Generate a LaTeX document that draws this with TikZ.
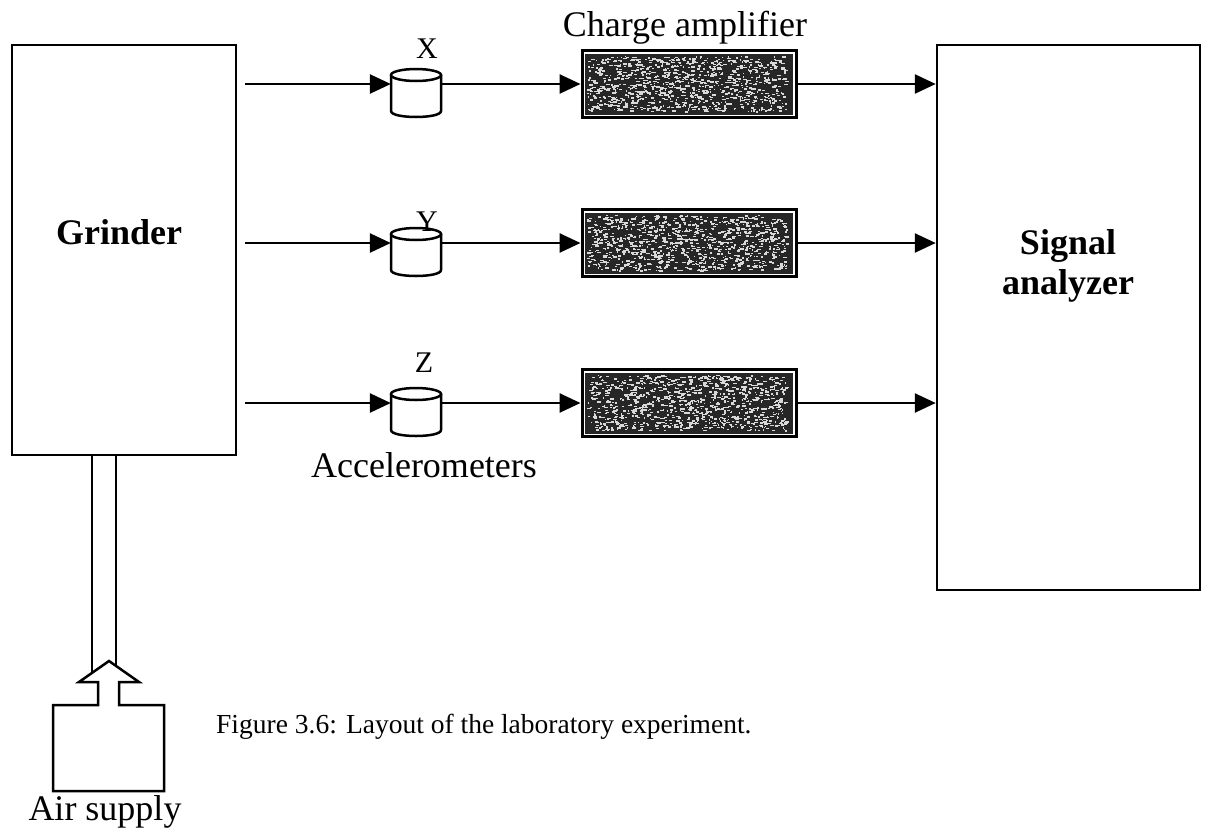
\documentclass[tikz,border=0pt]{standalone}
\usepackage{fontspec}
\setmainfont{Liberation Serif}
\usetikzlibrary{arrows.meta}
\begin{document}
\begin{tikzpicture}[x=1pt,y=-1pt,
  box/.style={draw, line width=2.5pt, rectangle, inner sep=0pt},
  ampbox/.style={draw, line width=3pt, rectangle, inner sep=0pt, minimum width=214pt, minimum height=67pt, fill=white},
  slot/.style={rectangle, inner sep=0pt, minimum width=50pt, minimum height=20pt},
  conn/.style={line width=2.6pt, -{Triangle[length=21pt,width=19pt]}},
  pipe/.style={line width=1.9pt},
  lbl/.style={font=\fontsize{36}{40}\selectfont, inner sep=0pt},
  axl/.style={font=\fontsize{30}{34}\selectfont, inner sep=0pt},
  bl/.style={font=\fontsize{36}{40}\selectfont\bfseries, inner sep=0pt},
  captxt/.style={font=\fontsize{27.5}{31}\selectfont, inner sep=0pt}
]
\useasboundingbox (0,0) rectangle (1216,833);

% main boxes
\node[box, minimum width=224pt, minimum height=410pt] (grinder) at (124,250) {};
\node[bl, anchor=base] (grinderlabel) at (119,244) {Grinder};
\node[box, minimum width=263pt, minimum height=545pt] (sa) at (1068.5,317.5) {};
\node[bl, anchor=base] (salabel1) at (1068,254) {Signal};
\node[bl, anchor=base] (salabel2) at (1068,294) {analyzer};

% accelerometers, amplifiers, start points
\foreach \r/\yy in {1/84,2/243,3/403}{
  \coordinate (s\r) at (245,\yy);
  \node[slot] (acc\r) at (416,\yy) {};
  \node[ampbox] (amp\r) at (689,\yy) {};
  \draw[line width=2.5pt, fill=white, line join=round]
    (391,\yy-9) -- (391,\yy+27) .. controls (391,\yy+35) and (441,\yy+35) .. (441,\yy+27) -- (441,\yy-9);
  \draw[line width=2.5pt, fill=white] (416,\yy-9) ellipse [x radius=25, y radius=6];
  \fill[black!85] ([shift={(4.5,4.5)}]amp\r.north west) rectangle ([shift={(-4.5,-4.5)}]amp\r.south east);
}
\pgfmathsetseed{7}
\foreach \cy in {84,243,403}{
  \foreach \i in {1,...,1000}{
    \pgfmathsetmacro{\px}{587+rnd*199}
    \pgfmathsetmacro{\py}{\cy-28+rnd*55}
    \pgfmathsetmacro{\pw}{0.8+rnd*3.2}
    \pgfmathsetmacro{\ph}{0.8+rnd*1.2}
    \fill[white!85!black] (\px,\py) rectangle ++(\pw,\ph);
  }
}

% connectors
\foreach \r in {1,2,3}{
  \draw[conn] (s\r) -- (acc\r.west);
  \draw[conn] (acc\r.east) -- (amp\r.west);
  \draw[conn] (amp\r.east) -- (amp\r.east -| sa.west);
}

% labels
\node[axl, anchor=base] (lx) at (427,58) {X};
\node[axl, anchor=base] (ly) at (427,231) {Y};
\node[axl, anchor=base] (lz) at (424,372) {Z};
\node[lbl, anchor=base] (lamp) at (685,36) {Charge amplifier};
\node[lbl, anchor=base] (lacc) at (424,477) {Accelerometers};

% air supply
\draw[pipe] ([xshift=81pt]grinder.south west) -- ++(0,225);
\draw[pipe] ([xshift=105pt]grinder.south west) -- ++(0,225);
\draw[line width=2.5pt, fill=white, line join=miter]
  (53,705) -- (98,705) -- (98,682) -- (79,682) -- (109,661) -- (139,682)
  -- (119,682) -- (119,705) -- (164,705) -- (164,791) -- (53,791) -- cycle;
\node[inner sep=0pt, minimum width=111pt, minimum height=86pt] (air) at (108.5,748) {};
\node[lbl, anchor=base] (lair) at (105,820) {Air supply};

% caption
\node[captxt, anchor=base west] (caption) at (216,733) {Figure 3.6: Layout of the laboratory experiment.};
\end{tikzpicture}
\end{document}
